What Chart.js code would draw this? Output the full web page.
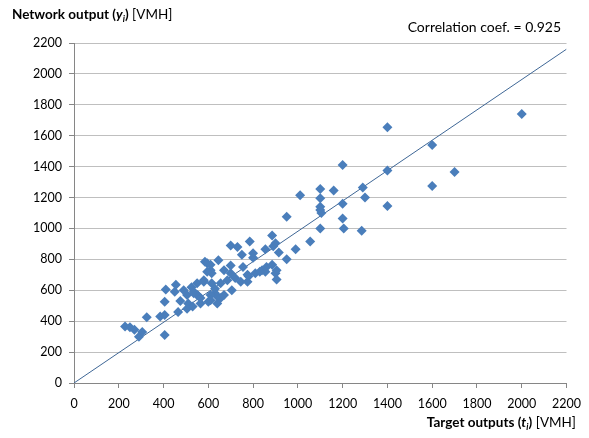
<!DOCTYPE html>
<html>
<head>
<meta charset="utf-8">
<script src="https://cdn.jsdelivr.net/npm/chart.js@4"></script>
<style>
html,body{margin:0;padding:0;background:#fff;}
#wrap{width:589px;height:438px;position:relative;}
</style>
</head>
<body>
<div id="wrap"><canvas id="c" width="589" height="438"></canvas></div>
<script>
// Target outputs (t) and network outputs (y), paired by index
const targetT = [228,250,270,290,305,325,385,405,405,405,410,455,450,475,465,505,510,525,505,530,550,490,535,555,580,595,610,615,630,640,565,585,610,645,615,595,670,700,685,720,745,780,810,840,860,885,900,550,535,580,630,655,670,640,610,565,600,610,700,730,785,750,800,800,885,890,705,655,775,855,905,905,950,990,1055,1100,1205,1285,855,915,900,950,1010,1100,1100,1160,1290,1300,1200,1100,1100,1105,1400,1200,1200,1400,1400,1600,1600,1700,2000,830,775,755,700];
const networkY = [365,360,345,300,330,425,430,440,310,525,605,635,590,530,460,570,515,620,480,495,570,600,580,565,665,775,730,645,580,515,515,785,765,795,710,720,730,710,665,680,655,690,710,730,750,765,710,645,590,655,610,645,570,560,570,550,525,535,890,880,915,830,840,810,955,885,600,550,655,720,670,730,800,865,915,1000,1000,985,865,845,905,1075,1215,1255,1195,1245,1265,1200,1160,1140,1120,1100,1145,1065,1410,1375,1655,1540,1275,1365,1740,720,700,750,760];
// Fitted line end points
const fitT = [0, 2200];
const fitY = [0, 2160];
// Tick values
const xTicks = [0,200,400,600,800,1000,1200,1400,1600,1800,2000,2200];
const yTicks = [0,200,400,600,800,1000,1200,1400,1600,1800,2000,2200];
const corrText = 'Correlation coef. = 0.925';

const FONT = 'Lato, "Open Sans", sans-serif';

function drawRich(ctx, parts, x, y, align) {
  let total = 0;
  parts.forEach(p => { ctx.font = p.font; p.w = ctx.measureText(p.text).width; total += p.w; });
  let cx = align === 'right' ? x - total : (align === 'center' ? x - total / 2 : x);
  ctx.textBaseline = 'middle';
  ctx.textAlign = 'left';
  parts.forEach(p => {
    ctx.font = p.font;
    ctx.fillText(p.text, cx, y + (p.dy || 0));
    cx += p.w;
  });
}

const titles = {
  id: 'titles',
  afterDraw(chart) {
    const ctx = chart.ctx;
    ctx.save();
    ctx.fillStyle = '#000';
    drawRich(ctx, [
      {text: 'Network output (', font: 'bold 13.5px ' + FONT},
      {text: 'y', font: 'italic bold 13.5px ' + FONT},
      {text: 'i', font: 'italic bold 9px ' + FONT, dy: 4},
      {text: ')', font: 'bold 13.5px ' + FONT},
      {text: ' [VMH]', font: '13.5px ' + FONT}
    ], 12, 15, 'left');
    drawRich(ctx, [
      {text: 'Target outputs (', font: 'bold 13.5px ' + FONT},
      {text: 't', font: 'italic bold 13.5px ' + FONT},
      {text: 'i', font: 'italic bold 9px ' + FONT, dy: 4},
      {text: ')', font: 'bold 13.5px ' + FONT},
      {text: ' [VMH]', font: '13.5px ' + FONT}
    ], 576, 423, 'right');
    drawRich(ctx, [{text: corrText, font: '14px ' + FONT}], 561, 27, 'right');
    ctx.restore();
  }
};

const scatterData = targetT.map((t, i) => ({x: t, y: networkY[i]}));
const lineData = fitT.map((t, i) => ({x: t, y: fitY[i]}));

new Chart(document.getElementById('c'), {
  type: 'scatter',
  data: {
    datasets: [
      {
        data: lineData,
        type: 'line',
        showLine: true,
        borderColor: '#3f6796',
        borderWidth: 1,
        pointRadius: 0,
        fill: false,
        order: 2
      },
      {
        data: scatterData,
        pointStyle: 'rectRot',
        pointRadius: 5,
        pointBackgroundColor: '#4a7ebb',
        pointBorderColor: '#4a7ebb',
        pointBorderWidth: 0,
        order: 1
      }
    ]
  },
  options: {
    responsive: false,
    animation: false,
    layout: {padding: {top: 43, right: 22, left: 0, bottom: 0}},
    plugins: {legend: {display: false}, tooltip: {enabled: false}},
    scales: {
      x: {
        type: 'linear',
        min: 0, max: 2200,
        afterBuildTicks: s => { s.ticks = xTicks.map(v => ({value: v})); },
        afterFit: s => { s.height = 55; },
        ticks: {color: '#000', font: {family: FONT, size: 12.5}, padding: 8, maxRotation: 0, autoSkip: false, callback: v => String(v)},
        grid: {drawOnChartArea: false, drawTicks: true, tickLength: 5, tickColor: '#868686', color: '#868686'},
        border: {color: '#868686', width: 1}
      },
      y: {
        type: 'linear',
        min: 0, max: 2200,
        afterBuildTicks: s => { s.ticks = yTicks.map(v => ({value: v})); },
        afterFit: s => { s.width = 74; },
        ticks: {color: '#000', font: {family: FONT, size: 12.5}, padding: 7, autoSkip: false, callback: v => String(v)},
        grid: {color: '#bfbfbf', drawTicks: true, tickLength: 5, tickColor: '#868686'},
        border: {color: '#868686', width: 1}
      }
    }
  },
  plugins: [titles]
});
</script>
</body>
</html>
